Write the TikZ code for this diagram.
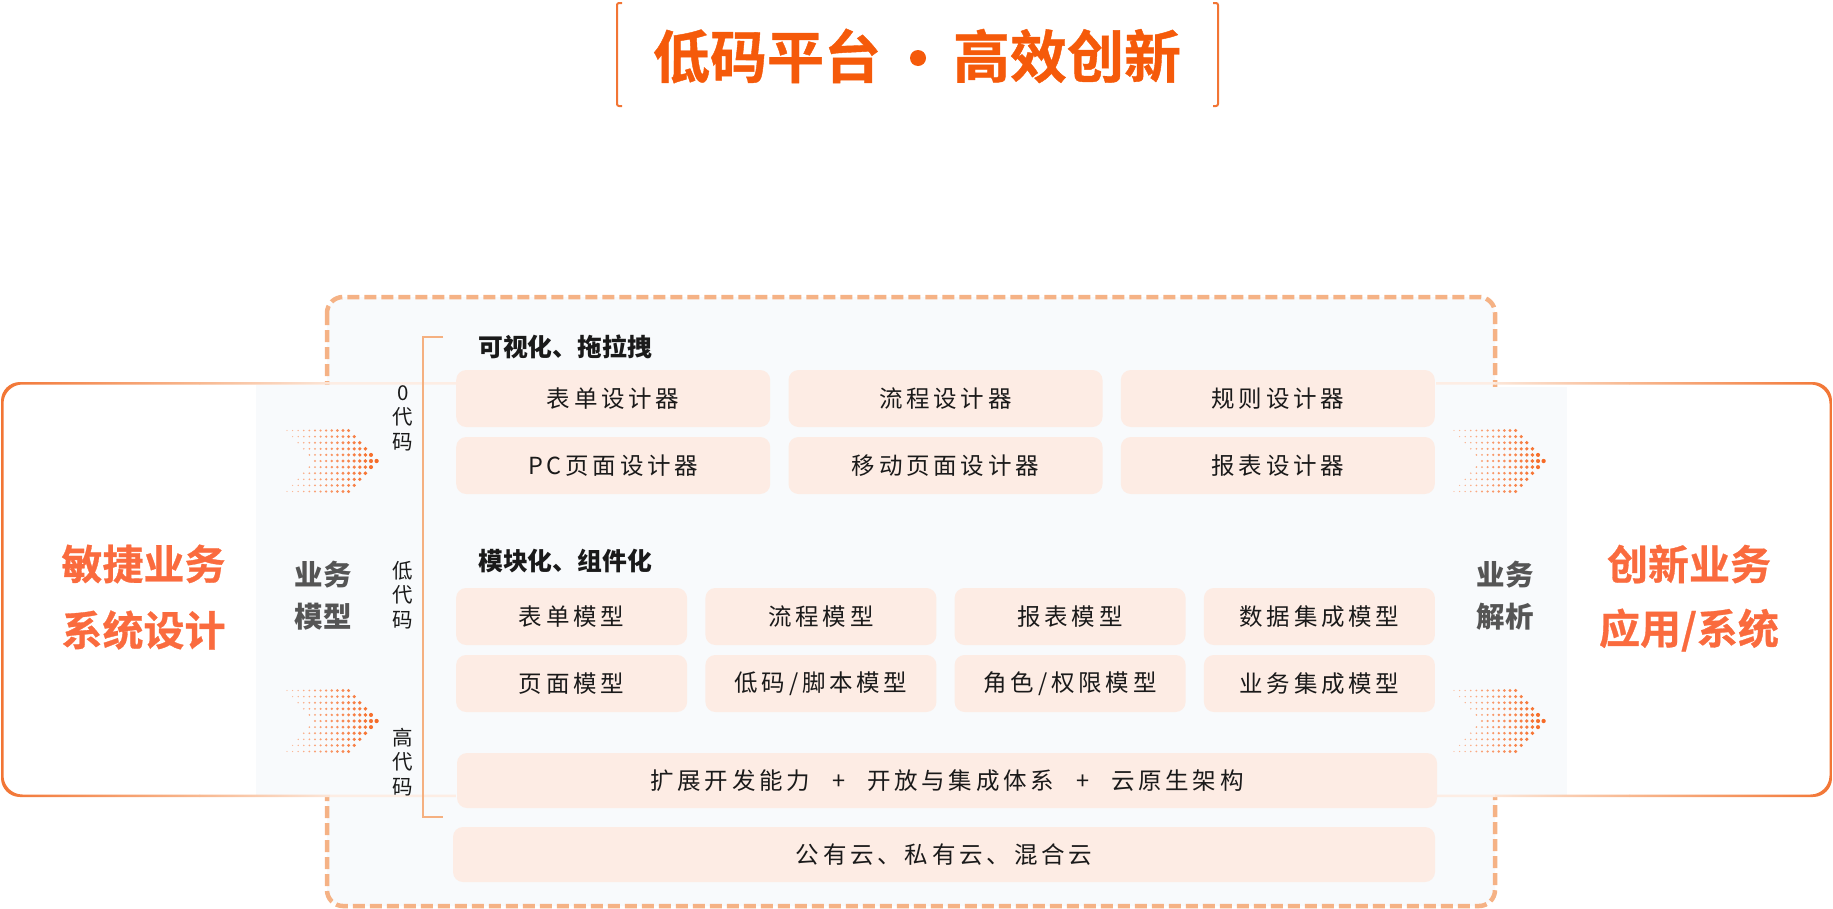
\documentclass[tikz,border=0pt]{standalone}
\usepackage{fontspec}
\setmainfont{Noto Sans CJK SC}
\newfontfamily\cjkls[LetterSpace=16]{Noto Sans CJK SC}
\newfontfamily\heavy[UprightFont={* Bold}, FakeBold=0.7]{Noto Sans CJK SC}
\usetikzlibrary{calc}
\definecolor{dashc}{HTML}{F5B285}
\definecolor{panel}{HTML}{F8FAFC}
\definecolor{cell}{HTML}{FDECE4}
\definecolor{titlec}{HTML}{F55A0A}
\definecolor{bigc}{HTML}{FA6B3E}
\definecolor{grayt}{HTML}{555555}
\definecolor{txt}{HTML}{1A1A1A}
\definecolor{edge}{HTML}{F27534}
\definecolor{edgemid}{HTML}{F8B890}
\definecolor{edgelt}{HTML}{FCE6D8}
\definecolor{dotc}{HTML}{F66A25}
\definecolor{brk}{HTML}{F5B080}
\begin{document}
\begin{tikzpicture}[x=1pt,y=-1pt,
  cellbox/.style={fill=cell, draw=none, rounded corners=10pt, inner sep=0pt,
    minimum height=57pt, font=\cjkls\fontsize{23.5}{27}\selectfont, text=txt},
  w3/.style={minimum width=314pt},
  w4/.style={minimum width=231pt},
  bigtxt/.style={font=\heavy\fontsize{41}{41}\selectfont, text=bigc, inner sep=0pt},
  midtxt/.style={font=\fontsize{28.5}{28.5}\selectfont\bfseries, text=grayt, inner sep=0pt},
  headtxt/.style={font=\fontsize{24.8}{24.8}\selectfont\bfseries, text=txt, inner sep=0pt, anchor=west},
  codelbl/.style={font=\fontsize{20.5}{24.5}\selectfont, text=txt, inner sep=0pt, align=center},
  titletxt/.style={font=\heavy\fontsize{57}{57}\selectfont, text=titlec, inner sep=0pt}
]
\useasboundingbox (0,0) rectangle (1833,908);

% title
\draw[edge, line width=2pt, rounded corners=2pt] (622,3) -- (617,3) -- (617,106) -- (622,106);
\draw[edge, line width=2pt, rounded corners=2pt] (1213,3) -- (1218,3) -- (1218,106) -- (1213,106);
\node[titletxt] (t1) at (767,56) {低码平台};
\fill[titlec] (918,58) circle[radius=8];
\node[titletxt] (t2) at (1067,56) {高效创新};

% dashed main box
\draw[dashc, line width=4.5pt, dash pattern=on 12pt off 5pt, fill=panel, rounded corners=16pt]
  (327,297) rectangle (1495,906);

% side panels
\fill[panel] (256,385) rectangle (456,795);
\fill[panel] (1436,387) rectangle (1567,797);

% outer side boxes with gradient stroke
\begin{scope}[even odd rule, rounded corners=19pt]
\clip (1,382) rectangle (900,797) (3.5,384.5) rectangle (900,794.5);
\shade[left color=edge, right color=edgemid, sharp corners] (0,378) rectangle (200,800);
\shade[left color=edgemid, right color=edgelt, sharp corners] (199.5,378) rectangle (330,800);
\fill[edgelt!70!white, sharp corners] (329.5,378) rectangle (456,800);
\end{scope}
\begin{scope}[even odd rule, rounded corners=19pt]
\clip (950,382) rectangle (1832,797) (950,384.5) rectangle (1829.5,794.5);
\fill[edgelt!70!white, sharp corners] (1436,378) rectangle (1495.5,800);
\shade[left color=edgelt, right color=edgemid, sharp corners] (1495,378) rectangle (1630,800);
\shade[left color=edgemid, right color=edge, sharp corners] (1629.5,378) rectangle (1833,800);
\end{scope}

% bracket
\draw[brk, line width=2pt] (443,337) -- (423,337) -- (423,817) -- (443,817);

% headings
\node[headtxt] (h1) at (478,347) {可视化、拖拉拽};
\node[headtxt] (h2) at (478,561) {模块化、组件化};

% row 1-2
\node[cellbox, w3] (d1) at (613.2,398.5) {表单设计器};
\node[cellbox, w3] (d2) at (945.5,398.5) {流程设计器};
\node[cellbox, w3] (d3) at (1277.8,398.5) {规则设计器};
\node[cellbox, w3] (d4) at (613.2,465.5) {PC页面设计器};
\node[cellbox, w3] (d5) at (945.5,465.5) {移动页面设计器};
\node[cellbox, w3] (d6) at (1277.8,465.5) {报表设计器};

% row 3-4
\node[cellbox, w4] (m1) at (571.6,616.5) {表单模型};
\node[cellbox, w4] (m2) at (820.9,616.5) {流程模型};
\node[cellbox, w4] (m3) at (1070.1,616.5) {报表模型};
\node[cellbox, w4] (m4) at (1319.4,616.5) {数据集成模型};
\node[cellbox, w4] (m5) at (571.6,683.5) {页面模型};
\node[cellbox, w4] (m6) at (820.9,683.5) {低码/脚本模型};
\node[cellbox, w4] (m7) at (1070.1,683.5) {角色/权限模型};
\node[cellbox, w4] (m8) at (1319.4,683.5) {业务集成模型};

% row 5-6
\node[cellbox, minimum width=980pt, minimum height=55pt] (e1) at (947,780.5)
  {扩展开发能力\hspace{22pt}+\hspace{22pt}开放与集成体系\hspace{22pt}+\hspace{22pt}云原生架构};
\node[cellbox, minimum width=982pt, minimum height=55pt] (e2) at (944,854.5) {公有云、私有云、混合云};

% code labels
\node[codelbl] (c0) at (403,418) {0\\代\\码};
\node[codelbl] (c1) at (403,595) {低\\代\\码};
\node[codelbl] (c2) at (403,762) {高\\代\\码};

% side texts
\node[bigtxt] (lt1) at (143.5,564) {敏捷业务};
\node[bigtxt] (lt2) at (143.5,630) {系统设计};
\node[bigtxt] (rt1) at (1689,564) {创新业务};
\node[bigtxt] (rt2) at (1689,630) {应用/系统};
\node[midtxt] (lm1) at (323,575) {业务};
\node[midtxt] (lm2) at (323,617) {模型};
\node[midtxt] (rm1) at (1505,575) {业务};
\node[midtxt] (rm2) at (1505,617) {解析};

% dotted chevrons
\foreach \ax/\ay in {287/461,287/721,1454/461,1454/721}{
  \foreach \i in {0,...,10}{
    \pgfmathtruncatemacro{\k}{min(\i,10-\i)}
    \pgfmathtruncatemacro{\kk}{\k+11}
    \foreach \j in {\k,...,\kk}{
      \pgfmathsetmacro{\r}{0.55+0.1*\j}
      \pgfmathtruncatemacro{\p}{45+55*\j/16}
      \fill[dotc!\p!white] (\ax+\j*5.6,\ay+\i*6.1-30.5) circle[radius=\r];
    }
  }
}
\end{tikzpicture}
\end{document}
